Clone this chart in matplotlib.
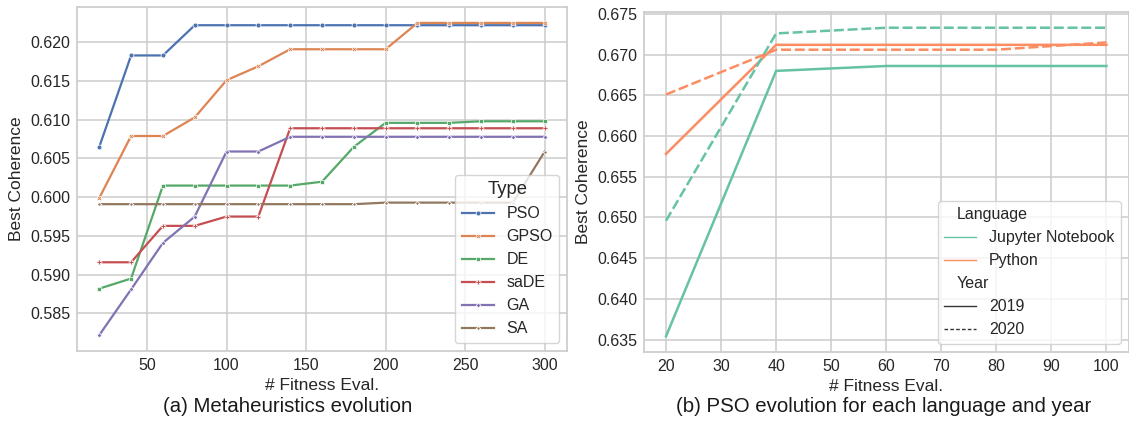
import matplotlib
matplotlib.use("Agg")
import matplotlib.pyplot as plt
import matplotlib as mpl
from matplotlib.lines import Line2D

# ---------------- data ----------------
evals_a = [20, 40, 60, 80, 100, 120, 140, 160, 180, 200, 220, 240, 260, 280, 300]
types = ["PSO", "GPSO", "DE", "saDE", "GA", "SA"]
pso = [0.6065, 0.6183, 0.6183, 0.6222, 0.6222, 0.6222, 0.6222, 0.6222, 0.6222,
       0.6222, 0.6222, 0.6222, 0.6222, 0.6222, 0.6222]
gpso = [0.5999, 0.6079, 0.6079, 0.6103, 0.6151, 0.6169, 0.6191, 0.6191, 0.6191,
        0.6191, 0.6225, 0.6225, 0.6225, 0.6225, 0.6225]
de = [0.5882, 0.5895, 0.6015, 0.6015, 0.6015, 0.6015, 0.6015, 0.6020, 0.6065,
      0.6096, 0.6096, 0.6096, 0.6098, 0.6098, 0.6098]
sade = [0.5916, 0.5916, 0.5963, 0.5963, 0.5975, 0.5975, 0.6089, 0.6089, 0.6089,
        0.6089, 0.6089, 0.6089, 0.6089, 0.6089, 0.6089]
ga = [0.5822, 0.5881, 0.5941, 0.5975, 0.6059, 0.6059, 0.6078, 0.6078, 0.6078,
      0.6078, 0.6078, 0.6078, 0.6078, 0.6078, 0.6078]
sa = [0.5991, 0.5991, 0.5991, 0.5991, 0.5991, 0.5991, 0.5991, 0.5991, 0.5991,
      0.5993, 0.5993, 0.5993, 0.5993, 0.5993, 0.6059]
series_a = [pso, gpso, de, sade, ga, sa]

evals_b = [20, 40, 60, 80, 100]
jupyter_2019 = [0.6354, 0.6680, 0.6686, 0.6686, 0.6686]
python_2019 = [0.6578, 0.6712, 0.6712, 0.6712, 0.6712]
jupyter_2020 = [0.6496, 0.6726, 0.6733, 0.6733, 0.6733]
python_2020 = [0.6651, 0.6706, 0.6706, 0.6706, 0.6715]
languages = ["Jupyter Notebook", "Python"]
years = ["2019", "2020"]

# ---------------- style ----------------
plt.rcParams.update({
    "font.family": ["Liberation Sans", "DejaVu Sans"],
    "text.color": "0.15",
    "axes.labelcolor": "0.15",
    "xtick.color": "0.15",
    "ytick.color": "0.15",
    "axes.edgecolor": "0.8",
    "axes.linewidth": 1.25,
    "grid.color": "0.8",
    "grid.linewidth": 1.1,
    "xtick.major.size": 0,
    "ytick.major.size": 0,
    "xtick.major.pad": 5.5,
    "ytick.major.pad": 5.0,
    "xtick.labelsize": 11.5,
    "ytick.labelsize": 11.5,
    "axes.labelsize": 12.5,
    "legend.fontsize": 11.5,
    "legend.title_fontsize": 13.3,
    "legend.labelspacing": 0.5,
})

deep = ["#4C72B0", "#DD8452", "#55A868", "#C44E52", "#8172B3", "#937860"]
markers = ["o", "X", (4, 0, 45), "P", (4, 0, 0), (4, 1, 0)]
set2 = ["#66c2a5", "#fc8d62"]

fig = plt.figure(figsize=(11.29, 4.21), dpi=100)

W, H = 1129.0, 421.0
def pos(x0, x1, ytop, ybot):
    return [x0 / W, (H - ybot) / H, (x1 - x0) / W, (ybot - ytop) / H]

# ---------------- panel (a) ----------------
ax1 = fig.add_axes(pos(77, 567, 7.3, 350.7))
ax1.grid(True)
ax1.set_axisbelow(True)
for name, vals, c, m in zip(types, series_a, deep, markers):
    ax1.plot(evals_a, vals, color=c, marker=m, markersize=3.5, markeredgecolor="w",
             markeredgewidth=0.5, linewidth=1.6, label=name)
ax1.set_yticks([0.585, 0.590, 0.595, 0.600, 0.605, 0.610, 0.615, 0.620])
ax1.set_xticks([50, 100, 150, 200, 250, 300])
ax1.set_xlabel("# Fitness Eval.", labelpad=3)
ax1.set_ylabel("Best Coherence", labelpad=4)
leg1 = ax1.legend(title="Type", loc="lower right", handlelength=2.0)
leg1.get_frame().set_edgecolor("0.8")
leg1.get_title().set_fontweight("normal")

# ---------------- panel (b) ----------------
ax2 = fig.add_axes(pos(644, 1128.5, 12.3, 351.7))
ax2.grid(True)
ax2.set_axisbelow(True)
ax2.plot(evals_b, jupyter_2019, color=set2[0], lw=1.8, ls="-")
ax2.plot(evals_b, python_2019, color=set2[1], lw=1.8, ls="-")
ax2.plot(evals_b, jupyter_2020, color=set2[0], lw=1.8, ls=(0, (4, 1.5)))
ax2.plot(evals_b, python_2020, color=set2[1], lw=1.8, ls=(0, (4, 1.5)))
ax2.set_yticks([0.635, 0.640, 0.645, 0.650, 0.655, 0.660, 0.665, 0.670, 0.675])
ax2.set_xticks([20, 30, 40, 50, 60, 70, 80, 90, 100])
ax2.set_xlabel("# Fitness Eval.", labelpad=3)
ax2.set_ylabel("Best Coherence", labelpad=4)

handles = [
    Line2D([], [], visible=False),
    Line2D([], [], color=set2[0], lw=1.0),
    Line2D([], [], color=set2[1], lw=1.0),
    Line2D([], [], visible=False),
    Line2D([], [], color="0.2", lw=1.0),
    Line2D([], [], color="0.2", lw=1.0, ls=(0, (2.6, 1.6))),
]
labels = ["Language"] + languages + ["Year"] + years
leg2 = ax2.legend(handles, labels, loc="lower right", handlelength=2.0)
leg2.get_frame().set_edgecolor("0.8")
hpackers = leg2.findobj(mpl.offsetbox.VPacker)[0].get_children()
for hp in hpackers:
    draw_area, text_area = hp.get_children()
    arts = draw_area.get_children()
    if not all(a.get_visible() for a in arts):
        draw_area.set_width(0)

# ---------------- captions ----------------
fig.text(287.5 / W, (H - 406) / H, "(a) Metaheuristics evolution",
         ha="center", va="center", fontsize=14.7, color="0.1")
fig.text(884 / W, (H - 406.5) / H, "(b) PSO evolution for each language and year",
         ha="center", va="center", fontsize=14.7, color="0.1")

fig.savefig("out.png", dpi=100)
